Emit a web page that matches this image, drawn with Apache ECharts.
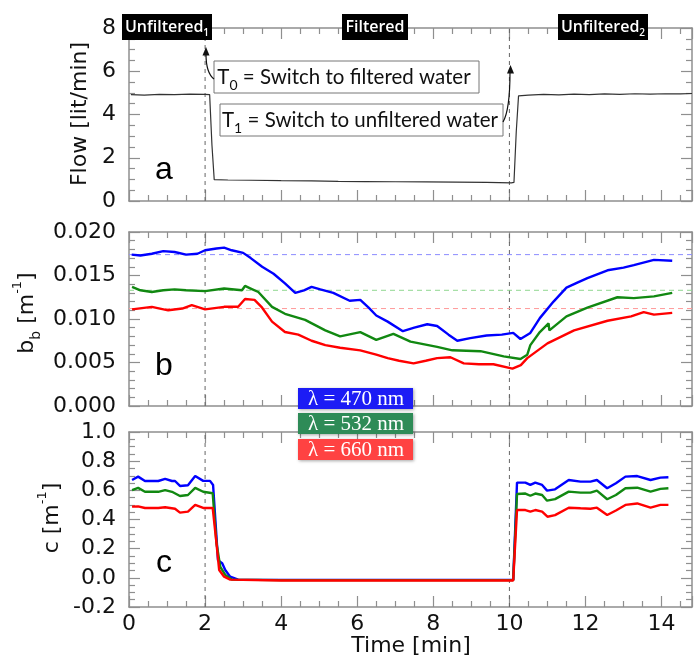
<!DOCTYPE html>
<html><head><meta charset="utf-8">
<script src="https://cdn.jsdelivr.net/npm/echarts@6/dist/echarts.min.js"></script>
<style>html,body{margin:0;padding:0;background:#fff}#chart{width:697px;height:655px}</style>
</head><body><div id="chart"></div>
<script>
// ---------------- data ----------------
const xTicks = [0, 2, 4, 6, 8, 10, 12, 14];
const switchTimes = [2, 10];
const flow = [[0.05,4.92],[0.4,4.9],[0.8,4.93],[1.2,4.92],[1.6,4.94],[2.0,4.93],[2.12,4.92],[2.18,2.6],[2.24,0.99],[2.6,0.97],[3.2,0.96],[4,0.94],[4.8,0.93],[5.5,0.91],[6.2,0.9],[7,0.89],[7.8,0.88],[8.6,0.87],[9.4,0.86],[10.05,0.84],[10.12,0.86],[10.18,3.2],[10.24,4.86],[10.5,4.9],[10.9,4.93],[11.3,4.91],[11.7,4.94],[12.1,4.92],[12.5,4.95],[12.9,4.93],[13.3,4.96],[13.7,4.94],[14.1,4.96],[14.5,4.95],[14.8,4.97]];

const bb470 = [[0.07,0.0174],[0.3,0.0173],[0.6,0.0175],[0.9,0.0178],[1.2,0.0177],[1.5,0.0174],[1.8,0.0175],[2.0,0.0179],[2.3,0.0181],[2.5,0.0182],[2.7,0.0179],[3.0,0.0176],[3.2,0.0170],[3.5,0.0160],[3.8,0.0152],[4.1,0.0141],[4.37,0.0130],[4.6,0.0133],[4.8,0.0137],[5.03,0.0134],[5.37,0.0130],[5.8,0.0121],[6.08,0.0122],[6.3,0.0113],[6.5,0.0104],[6.8,0.0097],[7.2,0.0086],[7.5,0.0090],[7.84,0.0094],[8.1,0.0092],[8.4,0.0082],[8.63,0.0075],[8.97,0.0078],[9.4,0.0081],[9.8,0.0082],[10.1,0.0084],[10.29,0.0077],[10.55,0.0084],[10.8,0.0101],[11.16,0.0120],[11.5,0.0136],[11.8,0.0142],[12.05,0.0147],[12.58,0.0156],[13.0,0.0159],[13.27,0.0162],[13.8,0.0168],[14.28,0.0167]];
const bb532 = [[0.08,0.0137],[0.3,0.0133],[0.6,0.0131],[0.9,0.0133],[1.2,0.0134],[1.5,0.0133],[2.0,0.0132],[2.5,0.0135],[2.97,0.0133],[3.05,0.0138],[3.2,0.0135],[3.4,0.0131],[3.76,0.0114],[4.1,0.0106],[4.63,0.0099],[5.16,0.0087],[5.55,0.0080],[6.08,0.0085],[6.5,0.0076],[6.95,0.0083],[7.4,0.0074],[8.1,0.0068],[8.5,0.0064],[9.24,0.0063],[9.85,0.0057],[10.29,0.0054],[10.47,0.0059],[10.55,0.0070],[10.8,0.0085],[11.03,0.0095],[11.05,0.0087],[11.5,0.0103],[12.05,0.0113],[12.84,0.0125],[13.27,0.0124],[13.8,0.0126],[14.28,0.0130]];
const bb660 = [[0.08,0.0111],[0.6,0.0114],[1.03,0.0110],[1.4,0.0112],[1.65,0.0116],[2.0,0.0111],[2.5,0.0114],[2.87,0.0114],[3.05,0.0123],[3.3,0.0122],[3.5,0.0113],[3.76,0.0097],[4.1,0.0085],[4.45,0.0082],[4.8,0.0075],[5.16,0.0070],[5.55,0.0067],[6.08,0.0064],[6.5,0.0059],[6.8,0.0055],[7.1,0.0052],[7.48,0.0049],[7.8,0.0052],[8.1,0.0055],[8.45,0.0056],[8.8,0.0049],[9.2,0.0048],[9.58,0.0048],[10.08,0.0043],[10.3,0.0047],[10.47,0.0055],[11.0,0.0072],[11.7,0.0087],[12.58,0.0098],[13.2,0.0103],[13.53,0.0108],[13.8,0.0105],[14.28,0.0107]];
const bbRef = [0.0174, 0.0133, 0.0112];

const c470 = [[0.08,0.671],[0.24,0.694],[0.42,0.664],[0.77,0.664],[0.95,0.678],[1.13,0.664],[1.21,0.664],[1.34,0.630],[1.55,0.635],[1.74,0.698],[1.95,0.665],[2.13,0.665],[2.21,0.637],[2.34,0.12],[2.45,0.10],[2.53,0.054],[2.66,0.008],[2.87,-0.012],[4,-0.014],[6,-0.014],[8,-0.014],[10.1,-0.014],[10.2,0.653],[10.42,0.653],[10.55,0.637],[10.68,0.653],[10.86,0.637],[10.99,0.598],[11.2,0.607],[11.56,0.671],[11.87,0.66],[12.13,0.66],[12.3,0.671],[12.57,0.614],[12.8,0.649],[13.05,0.694],[13.36,0.698],[13.71,0.671],[13.97,0.687],[14.18,0.69]];
const c532 = [[0.08,0.602],[0.24,0.617],[0.42,0.59],[0.77,0.59],[0.95,0.602],[1.13,0.59],[1.34,0.561],[1.55,0.568],[1.74,0.617],[1.95,0.59],[2.2,0.58],[2.3,0.239],[2.4,0.075],[2.53,0.02],[2.7,-0.012],[4,-0.016],[6,-0.016],[8,-0.016],[10.1,-0.016],[10.2,0.575],[10.42,0.578],[10.55,0.563],[10.68,0.578],[10.86,0.568],[10.99,0.529],[11.2,0.54],[11.56,0.591],[11.87,0.584],[12.13,0.584],[12.3,0.598],[12.57,0.539],[12.8,0.568],[13.05,0.614],[13.36,0.618],[13.71,0.591],[13.97,0.61],[14.18,0.614]];
const c660 = [[0.08,0.488],[0.24,0.49],[0.42,0.479],[0.77,0.479],[0.95,0.484],[1.21,0.474],[1.34,0.447],[1.55,0.454],[1.74,0.50],[1.95,0.479],[2.2,0.479],[2.29,0.26],[2.37,0.054],[2.5,0.008],[2.66,-0.012],[4,-0.018],[6,-0.018],[8,-0.018],[10.1,-0.018],[10.2,0.465],[10.42,0.465],[10.55,0.454],[10.68,0.465],[10.86,0.454],[11.0,0.419],[11.2,0.43],[11.56,0.481],[11.87,0.477],[12.13,0.474],[12.3,0.481],[12.57,0.431],[12.8,0.462],[13.05,0.50],[13.36,0.51],[13.71,0.481],[13.97,0.50],[14.18,0.50]];

const legendLabels = ['λ = 470 nm', 'λ = 532 nm', 'λ = 660 nm'];
const phaseLabels = ['Unfiltered', 'Filtered', 'Unfiltered'];
// ---------------- chart ----------------
const lineCols = ['#0000ff', '#118811', '#ff0000'];
const refCols = ['#8c8cff', '#8fd68f', '#ff9a9a'];
const boxCols = ['#1c1cf5', '#2e8b57', '#ff4242'];
const AX = '#8f8f8f';
const FONT = 'DejaVu Sans';
const XMIN = 0, XMAX = 14.8;
const ySpec = [[0,8,2,4,0],[0,0.02,0.005,5,3],[-0.2,1.0,0.2,4,1]];
const grids = [{left:129, right:5, top:28, height:173},{left:129, right:5, top:232, height:174},{left:129, right:5, top:432, height:175}];

function xAx(gi, pos, lab){
  return {type:'value', gridIndex:gi, position:pos, min:XMIN, max:XMAX, interval:2,
    axisLine:{show:true, onZero:false, lineStyle:{color:AX, width:1.5}},
    axisTick:{show:true, inside:true, length:11, lineStyle:{color:AX, width:1.2}},
    minorTick:{show:true, splitNumber:4, length:6, lineStyle:{color:AX, width:1.2}},
    splitLine:{show:false},
    axisLabel:{show:lab, showMaxLabel:false, margin:6, color:'#111', fontSize:22, fontFamily:FONT,
      formatter:v=> xTicks.indexOf(v)>=0 ? String(v) : ''}};
}
function yAx(gi, pos, min, max, iv, minor, dec, lab){
  return {type:'value', gridIndex:gi, position:pos, min:min, max:max, interval:iv,
    axisLine:{show:true, onZero:false, lineStyle:{color:AX, width:1.5}},
    axisTick:{show:true, inside:true, length:11, lineStyle:{color:AX, width:1.2}},
    minorTick:{show:true, splitNumber:minor, length:6, lineStyle:{color:AX, width:1.2}},
    splitLine:{show:false},
    axisLabel:{show:lab, margin:13, color:'#111', fontSize:22, fontFamily:FONT, formatter:v=>v.toFixed(dec)}};
}
const xAxis = [], yAxis = [];
for (let g=0; g<3; g++){ xAxis.push(xAx(g,'bottom', g===2)); }
for (let g=0; g<3; g++){ xAxis.push(xAx(g,'top', false)); }
for (let g=0; g<3; g++){ const s=ySpec[g]; yAxis.push(yAx(g,'left',s[0],s[1],s[2],s[3],s[4],true)); }
for (let g=0; g<3; g++){ const s=ySpec[g]; yAxis.push(yAx(g,'right',s[0],s[1],s[2],s[3],s[4],false)); }

function ln(data, gi, col, w, dash, z){
  return {type:'line', xAxisIndex:gi, yAxisIndex:gi, data:data, showSymbol:false, symbol:'none', silent:true,
    lineStyle:{color:col, width:w, type: dash || 'solid'}, itemStyle:{color:col}, animation:false, z: z||3};
}
const series = [];
// vertical dashed switch lines in every panel
for (let g=0; g<3; g++){
  switchTimes.forEach(t=> series.push(ln([[t, ySpec[g][0]],[t, ySpec[g][1]]], g, '#666', 1, [4,4], 1)));
}
// horizontal reference lines in panel b
bbRef.forEach((v,i)=> series.push(ln([[XMIN, v],[XMAX, v]], 1, refCols[i], 1, [5,4], 1)));
series.push(ln(flow, 0, '#333', 1.2));
series.push(ln(bb660, 1, lineCols[2], 2.4));
series.push(ln(bb532, 1, lineCols[1], 2.4));
series.push(ln(bb470, 1, lineCols[0], 2.4));
series.push(ln(c660, 2, lineCols[2], 2.4, null, 5));
series.push(ln(c532, 2, lineCols[1], 2.4, null, 4));
series.push(ln(c470, 2, lineCols[0], 2.4, null, 3));

const graphic = [];
// y-axis names
const nameRich = {n:{fontSize:22, fontFamily:FONT, lineHeight:32, fill:'#111'},
  s:{fontSize:14, fontFamily:FONT, verticalAlign:'bottom', lineHeight:14, fill:'#111'},
  p:{fontSize:13, fontFamily:FONT, verticalAlign:'top', lineHeight:13, fill:'#111'}};
graphic.push({type:'text', x:80, y:114, rotation:Math.PI/2, style:{text:'{n|Flow [lit/min]}', rich:nameRich, align:'center', verticalAlign:'middle'}});
graphic.push({type:'text', x:27, y:313, rotation:Math.PI/2, style:{text:'{n|b}{s|b}{n| [m}{p|-1}{n|]}', rich:nameRich, align:'center', verticalAlign:'middle'}});
graphic.push({type:'text', x:52, y:518, rotation:Math.PI/2, style:{text:'{n|c [m}{p|-1}{n|]}', rich:nameRich, align:'center', verticalAlign:'middle'}});
graphic.push({type:'text', x:411, y:646, style:{text:'Time [min]', font:'22px "DejaVu Sans"', fill:'#111', align:'center', verticalAlign:'middle'}});
// panel letters
[['a',164,170],['b',164,366],['c',164,563]].forEach(p=>{
  graphic.push({type:'text', x:p[1], y:p[2], style:{text:p[0], font:'32px "Liberation Sans"', fill:'#000', align:'center', verticalAlign:'middle'}});
});
// phase boxes
const phaseBoxes = [[122,90,'1'],[342,66,''],[558,90,'2']];
const boxRich = {n:{fontSize:16, fontFamily:'Open Sans', fontWeight:600, fill:'#fff', lineHeight:22},
  s:{fontSize:10, fontFamily:'Open Sans', fontWeight:600, fill:'#fff', verticalAlign:'bottom', lineHeight:10}};
phaseBoxes.forEach((b,i)=>{
  graphic.push({type:'rect', shape:{x:b[0], y:14, width:b[1], height:26}, style:{fill:'#000'}, z:10});
  graphic.push({type:'text', x:b[0]+b[1]/2, y:27, z:11, style:{text:'{n|'+phaseLabels[i]+'}'+(b[2]?'{s|'+b[2]+'}':''), rich:boxRich, align:'center', verticalAlign:'middle'}});
});
// annotation boxes
const annRich = {n:{fontSize:20.5, fontFamily:'Lato', fill:'#111', lineHeight:30},
  s:{fontSize:14, fontFamily:'Lato', fill:'#111', verticalAlign:'bottom', lineHeight:14}};
graphic.push({type:'rect', shape:{x:214, y:61, width:265, height:32}, style:{fill:'#fff', stroke:'#777', lineWidth:1}, z:10});
graphic.push({type:'text', x:344, y:77, z:11, style:{text:'{n|T}{s|0}{n| = Switch to filtered water}', rich:annRich, align:'center', verticalAlign:'middle'}});
graphic.push({type:'rect', shape:{x:220, y:104, width:283, height:32}, style:{fill:'#fff', stroke:'#777', lineWidth:1}, z:10});
graphic.push({type:'text', x:360, y:120, z:11, style:{text:'{n|T}{s|1}{n| = Switch to unfiltered water}', rich:annRich, align:'center', verticalAlign:'middle'}});
// arrows
graphic.push({type:'bezierCurve', shape:{x1:214, y1:79, cpx1:206, cpy1:73, x2:206, y2:54}, style:{stroke:'#111', lineWidth:1.2, fill:null}, z:12});
graphic.push({type:'polygon', shape:{points:[[206,47],[202.5,55.5],[209.5,55.5]]}, style:{fill:'#111'}, z:12});
graphic.push({type:'bezierCurve', shape:{x1:503, y1:122, cpx1:510, cpy1:110, x2:510, y2:72}, style:{stroke:'#111', lineWidth:1.2, fill:null}, z:12});
graphic.push({type:'polygon', shape:{points:[[510.5,65],[507,73.5],[514,73.5]]}, style:{fill:'#111'}, z:12});
// legend boxes
const legY = [388, 413, 439];
legendLabels.forEach((t,i)=>{
  graphic.push({type:'rect', shape:{x:298, y:legY[i], width:115, height:21}, style:{fill:boxCols[i], shadowBlur:3, shadowColor:'rgba(0,0,0,0.35)', shadowOffsetX:1, shadowOffsetY:1}, z:20});
  graphic.push({type:'text', x:356, y:legY[i]+11, z:21, style:{text:t, font:'21px "Liberation Serif"', fill:'#fff', align:'center', verticalAlign:'middle'}});
});

const chart = echarts.init(document.getElementById('chart'), null, {renderer:'canvas'});
chart.setOption({animation:false, backgroundColor:'#fff', grid:grids, xAxis:xAxis, yAxis:yAxis, series:series, graphic:graphic});
</script></body></html>
